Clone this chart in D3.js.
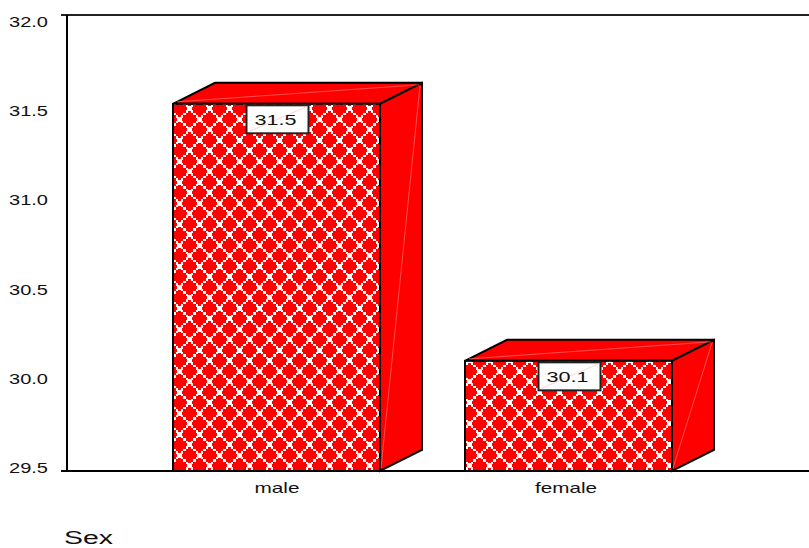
<!DOCTYPE html>
<html>
<head>
<meta charset="utf-8">
<script src="https://cdn.jsdelivr.net/npm/d3@7"></script>
<style>
  html, body { margin: 0; padding: 0; background: #fff; }
  svg { display: block; }
  text { font-family: "Liberation Sans", Arial, sans-serif; fill: #111; }
</style>
</head>
<body>
<div id="chart"></div>
<script>
// Mean value by sex, drawn as extruded bars with a lattice fill.
const categories = ["male", "female"];
const values = [31.5, 30.1];
const yTicks = [29.5, 30.0, 30.5, 31.0, 31.5, 32.0];
const axisTitle = "Sex";

const width = 809, height = 548;
const plot = { left: 67, top: 15, bottom: 471, right: 809 };
const barWidth = 207;
const depth = { x: 42, y: -21 };
const red = "#ff0000";

const svg = d3.select("#chart").append("svg")
  .attr("width", width).attr("height", height);

const x = d3.scalePoint().domain(categories).range([276.5, 568.5]);
const y = d3.scaleLinear().domain([29.5, 32]).range([plot.bottom, 12]);
// Tick labels sit slightly inside the frame, so they get their own scale.
const yLabel = d3.scaleLinear().domain([29.5, 32]).range([468, 21.5]);

// Stair-stepped diamond lattice: white diagonal blocks, with short arms at each crossing.
const tileW = 20, tileH = 21;
const xSteps = [0, 3, 5, 8, 10, 13, 15, 18, 20];
const ySteps = [0, 3, 5, 8, 10, 13, 16, 18, 21];
const pattern = svg.append("defs").append("pattern")
  .attr("id", "lattice")
  .attr("patternUnits", "userSpaceOnUse")
  .attr("x", 178).attr("y", 118)
  .attr("width", tileW).attr("height", tileH);
pattern.append("rect").attr("width", tileW).attr("height", tileH).attr("fill", red);
const blocks = d3.cross(d3.range(8), d3.range(8))
  .filter(([i, j]) => (i + j) % 8 === 0 || (i - j + 8) % 8 === 0);
pattern.selectAll("rect.block").data(blocks).join("rect")
  .attr("class", "block")
  .attr("x", ([i]) => xSteps[i])
  .attr("y", ([, j]) => ySteps[j])
  .attr("width", ([i]) => xSteps[i + 1] - xSteps[i])
  .attr("height", ([, j]) => ySteps[j + 1] - ySteps[j])
  .attr("fill", "#fff");
// Crossings repeat at the tile corners and at its centre.
const crossings = d3.cross([-tileW, 0, tileW], [-tileH, 0, tileH])
  .map(([a, b]) => [a + 1.5, b + 1.5])
  .concat([[11.5, 11.5]]);
const arm = 2.5, thick = 1.5;
pattern.selectAll("rect.armH").data(crossings).join("rect")
  .attr("class", "armH")
  .attr("x", d => d[0] - arm).attr("y", d => d[1] - thick)
  .attr("width", arm * 2).attr("height", thick * 2).attr("fill", "#fff");
pattern.selectAll("rect.armV").data(crossings).join("rect")
  .attr("class", "armV")
  .attr("x", d => d[0] - thick).attr("y", d => d[1] - arm)
  .attr("width", thick * 2).attr("height", arm * 2).attr("fill", "#fff");

// Frame: left axis plus top and bottom rules.
const frame = svg.append("g").attr("stroke-width", 2);
frame.append("line").attr("x1", 61).attr("x2", plot.right)
  .attr("y1", plot.top).attr("y2", plot.top).attr("stroke", "#222");
frame.append("line").attr("x1", plot.left).attr("x2", plot.left)
  .attr("y1", plot.top).attr("y2", plot.bottom).attr("stroke", "#000");

// Bars: front, top and side faces.
const bars = svg.append("g").selectAll("g").data(categories).join("g")
  .attr("transform", d => `translate(${x(d) - barWidth / 2},0)`);
const topOf = i => y(values[i]);

function poly(sel, pts, fill) {
  return sel.append("polygon")
    .attr("points", pts)
    .attr("fill", fill)
    .attr("stroke", "#000")
    .attr("stroke-width", 2);
}

bars.each(function (d, i) {
  const g = d3.select(this);
  const t = topOf(i), b = plot.bottom, w = barWidth;
  poly(g, [[0, t], [depth.x, t + depth.y], [w + depth.x, t + depth.y], [w, t]].join(" "), red);
  poly(g, [[w, t], [w + depth.x, t + depth.y], [w + depth.x, b + depth.y], [w, b]].join(" "), red);
  g.append("rect").attr("y", t).attr("width", w).attr("height", b - t)
    .attr("transform", `translate(${-(x(d) - barWidth / 2)},0)`)
    .attr("x", x(d) - barWidth / 2)
    .attr("fill", "url(#lattice)")
    .attr("stroke", "#000").attr("stroke-width", 2);
  // Faint seams where the faces were triangulated.
  const seam = (x1, y1, x2, y2) => g.append("line")
    .attr("x1", x1).attr("y1", y1).attr("x2", x2).attr("y2", y2)
    .attr("stroke", "#ff7070").attr("stroke-width", 0.7);
  seam(w + 1, b - 3, w + depth.x - 2, t + depth.y + 3);
  seam(4, t - 2, w + depth.x - 3, t + depth.y + 2);
});

// Baseline runs over the feet of the bars.
svg.append("line").attr("x1", 61).attr("x2", plot.right)
  .attr("y1", plot.bottom).attr("y2", plot.bottom)
  .attr("stroke", "#000").attr("stroke-width", 2);

// Value boxes just under each bar's top edge.
const boxes = svg.append("g").selectAll("g").data(categories).join("g")
  .attr("transform", (d, i) => `translate(${x(d) + 1},${topOf(i) + 15.5})`);
boxes.append("rect")
  .attr("x", -31).attr("y", -14).attr("width", 62).attr("height", 28)
  .attr("fill", "#fff").attr("stroke", "#222").attr("stroke-width", 2);
boxes.append("line")
  .attr("x1", -28).attr("y1", 12).attr("x2", 30).attr("y2", -13)
  .attr("stroke", "#ffc0c0").attr("stroke-width", 0.7);
boxes.append("text")
  .attr("text-anchor", "middle").attr("y", 6).attr("x", -2)
  .attr("font-size", 15.5)
  .attr("textLength", 42).attr("lengthAdjust", "spacingAndGlyphs")
  .text((d, i) => d3.format(".1f")(values[i]));

// Axes: labels only, the rules above stand in for axis lines.
const yAxis = svg.append("g").attr("transform", "translate(48,0)")
  .call(d3.axisLeft(yLabel).tickValues(yTicks).tickFormat(d3.format(".1f"))
    .tickSize(0).tickPadding(0));
const xAxis = svg.append("g").attr("transform", "translate(0,482)")
  .call(d3.axisBottom(x).tickSize(0).tickPadding(0));
[yAxis, xAxis].forEach(a => {
  a.select(".domain").remove();
  a.attr("font-family", null).attr("font-size", null);
});
yAxis.selectAll("text").attr("font-size", 15)
  .attr("textLength", 39).attr("lengthAdjust", "spacingAndGlyphs");
xAxis.selectAll("text").attr("font-size", 15)
  .attr("dx", d => d === "male" ? 0 : -3)
  .attr("textLength", d => d === "male" ? 45 : 62)
  .attr("lengthAdjust", "spacingAndGlyphs");

svg.append("text")
  .attr("x", 64).attr("y", 544)
  .attr("font-size", 18)
  .attr("textLength", 49).attr("lengthAdjust", "spacingAndGlyphs")
  .text(axisTitle);
</script>
</body>
</html>
